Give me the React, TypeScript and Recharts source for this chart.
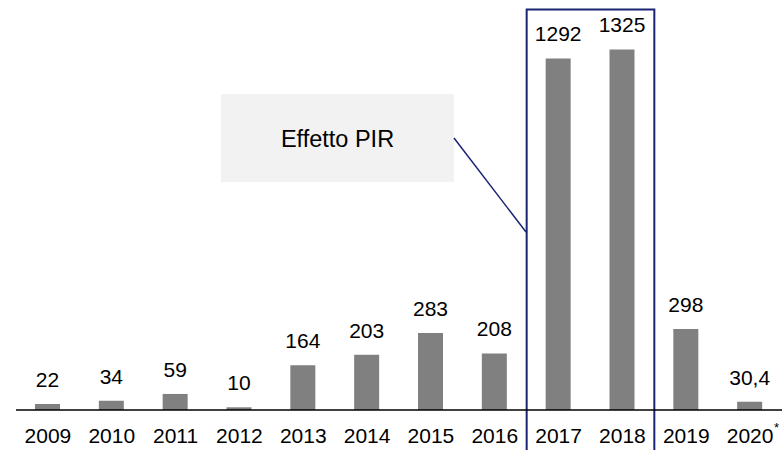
import { Bar, BarChart, LabelList, ReferenceArea, XAxis, YAxis, Customized } from 'recharts';

const years = ['2009', '2010', '2011', '2012', '2013', '2014', '2015', '2016', '2017', '2018', '2019', '2020'];
const values = [22, 34, 59, 10, 164, 203, 283, 208, 1292, 1325, 298, 30.4];
const tickNotes: Record<string, string> = { '2020': '*' };
const highlightFrom = '2017';
const highlightTo = '2018';
const calloutText = 'Effetto PIR';

const data = years.map((year, i) => ({ year, value: values[i] }));

const FONT = 'Liberation Sans, Arial, sans-serif';
const NAVY = '#1a2472';

const formatValue = (v: any) => String(v).replace('.', ',');

function YearTick(props: any) {
  const { x, y, payload } = props;
  const note = tickNotes[payload.value];
  return (
    <g>
      <text x={x} y={y} dy={14} textAnchor="middle" fontSize={21} fontFamily={FONT} fill="#000">
        {payload.value}
      </text>
      {note && (
        <text x={x + 24} y={y + 3} textAnchor="start" fontSize={13} fontFamily={FONT} fill="#000">
          {note}
        </text>
      )}
    </g>
  );
}

function Callout() {
  return (
    <g>
      <rect x={221} y={94} width={233} height={88} fill="#f2f2f2" />
      <text x={337.5} y={147} textAnchor="middle" fontSize={23.5} fontFamily={FONT} fill="#000">
        {calloutText}
      </text>
      <line x1={454} y1={138} x2={526} y2={232} stroke={NAVY} strokeWidth={1.5} />
    </g>
  );
}

export default function App() {
  return (
    <div style={{ position: 'absolute', left: 0, top: 0 }}>
      <BarChart
        width={783}
        height={450}
        data={data}
        margin={{ top: 29, right: 1, bottom: 0, left: 16 }}
      >
        <XAxis
          dataKey="year"
          height={40}
          axisLine={{ stroke: '#000', strokeWidth: 1.5 }}
          tickLine={false}
          tickSize={0}
          tickMargin={19}
          interval={0}
          tick={<YearTick />}
        />
        <YAxis hide domain={[0, 1400]} />
        <Bar dataKey="value" fill="#808080" barSize={25} isAnimationActive={false}>
          <LabelList
            dataKey="value"
            position="top"
            offset={17}
            formatter={formatValue}
            fontSize={21}
            fontFamily={FONT}
            fill="#000"
          />
        </Bar>
        <ReferenceArea
          x1={highlightFrom}
          x2={highlightTo}
          y1={1472}
          y2={-200}
          ifOverflow="visible"
          fill="none"
          stroke={NAVY}
          strokeWidth={2}
        />
        <Customized component={<Callout />} />
      </BarChart>
    </div>
  );
}
